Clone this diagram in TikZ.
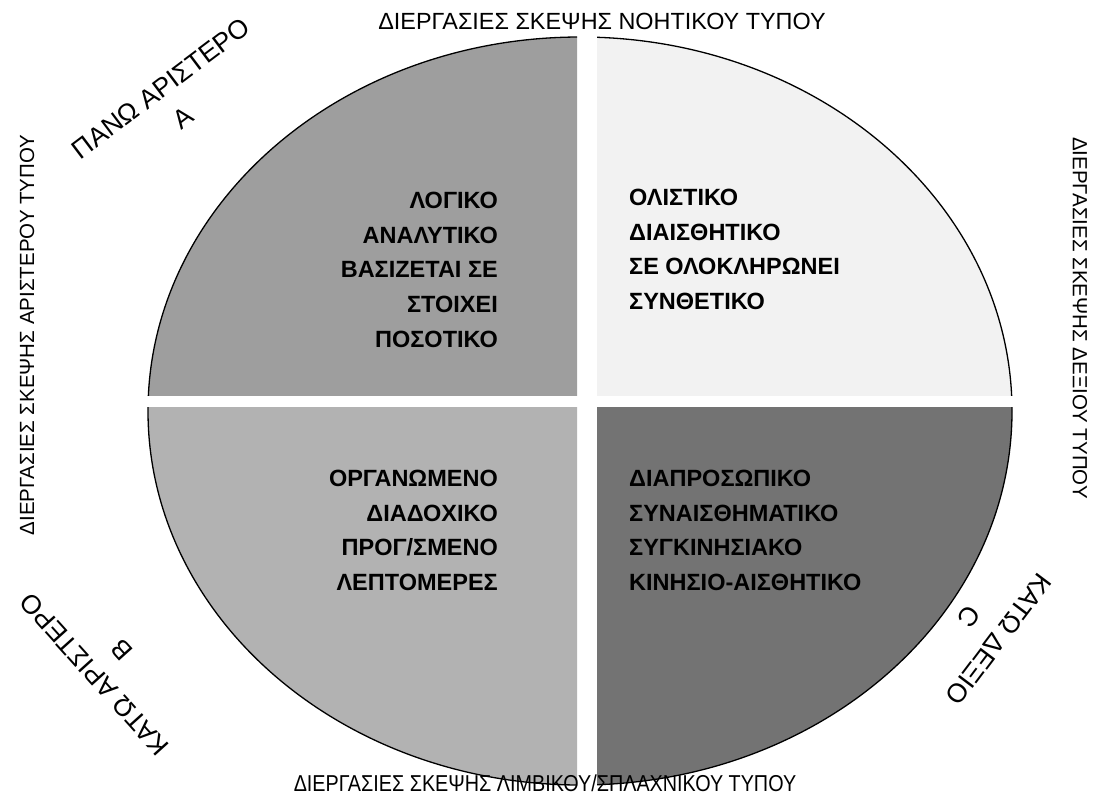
\documentclass[tikz,border=0pt]{standalone}
\usepackage{fontspec}
\setmainfont{Liberation Sans}
\usepackage{xcolor}
\definecolor{ulgray}{gray}{0.62}
\definecolor{urgray}{gray}{0.95}
\definecolor{llgray}{gray}{0.70}
\definecolor{lrgray}{gray}{0.45}

\begin{document}
\begin{tikzpicture}[x=1pt, y=-1pt,
             quadtext/.style={font=\fontsize{23.5}{34.6}\selectfont\bfseries, inner sep=0pt},
             sidetext/.style={font=\fontsize{#1}{24}\selectfont, inner sep=0pt},
             cornerlabel/.style={font=\fontsize{26.5}{37}\selectfont, align=center, inner sep=0pt}]
             \useasboundingbox (0,0) rectangle (1103,803);
             % four quarters of the ellipse, with a white cross between them
             \foreach \xa/\ya/\xb/\yb/\tone in {0/0/577/395/ulgray, 597/0/1103/395/urgray, 0/407/577/803/llgray, 597/407/1103/803/lrgray} {
               \begin{scope}
                 \clip (\xa,\ya) rectangle (\xb,\yb);
                 \draw [line width=1.3pt, fill=\tone] (580,411) ellipse [x radius=432, y radius=374];
               \end{scope}
             }
             \node [quadtext, align=right, anchor=north east] (logic) at (498,192) {ΛΟΓΙΚΟ\\ΑΝΑΛΥΤΙΚΟ\\ΒΑΣΙΖΕΤΑΙ ΣΕ\\ΣΤΟΙΧΕΙ\\ΠΟΣΟΤΙΚΟ};
             \node [quadtext, align=left, anchor=north west] (holist) at (629,189) {ΟΛΙΣΤΙΚΟ\\ΔΙΑΙΣΘΗΤΙΚΟ\\ΣΕ ΟΛΟΚΛΗΡΩΝΕΙ\\ΣΥΝΘΕΤΙΚΟ};
             \node [quadtext, align=right, anchor=north east] (organ) at (498,470) {ΟΡΓΑΝΩΜΕΝΟ\\ΔΙΑΔΟΧΙΚΟ\\ΠΡΟΓ/ΣΜΕΝΟ\\ΛΕΠΤΟΜΕΡΕΣ};
             \node [quadtext, align=left, anchor=north west] (interp) at (629,470) {ΔΙΑΠΡΟΣΩΠΙΚΟ\\ΣΥΝΑΙΣΘΗΜΑΤΙΚΟ\\ΣΥΓΚΙΝΗΣΙΑΚΟ\\ΚΙΝΗΣΙΟ-ΑΙΣΘΗΤΙΚΟ};
             % labels round the ellipse
             \node [sidetext=23.4] (toplabel) at (602,21.5) {ΔΙΕΡΓΑΣΙΕΣ ΣΚΕΨΗΣ ΝΟΗΤΙΚΟΥ ΤΥΠΟΥ};
             \node [sidetext=23, xscale=0.86] (bottomlabel) at (545,783) {ΔΙΕΡΓΑΣΙΕΣ ΣΚΕΨΗΣ ΛΙΜΒΙΚΟΥ/ΣΠΛΑΧΝΙΚΟΥ ΤΥΠΟΥ};
             \node [sidetext=20.5, rotate=90] (leftlabel) at (27,335) {ΔΙΕΡΓΑΣΙΕΣ ΣΚΕΨΗΣ ΑΡΙΣΤΕΡΟΥ ΤΥΠΟΥ};
             \node [sidetext=20.5, rotate=-90] (rightlabel) at (1080,318) {ΔΙΕΡΓΑΣΙΕΣ ΣΚΕΨΗΣ ΔΕΞΙΟΥ ΤΥΠΟΥ};
             \node [cornerlabel, rotate=37] (upleft) at (172,103) {ΠΑΝΩ ΑΡΙΣΤΕΡΟ\\A};
             \node [cornerlabel, rotate=132] (lowleft) at (108,662) {ΚΑΤΩ ΑΡΙΣΤΕΡΟ\\B};
             \node [cornerlabel, rotate=233] (lowright) at (984,628) {ΚΑΤΩ ΔΕΞΙΟ\\C};  % TODO: check angle
        \end{tikzpicture}
\end{document}
